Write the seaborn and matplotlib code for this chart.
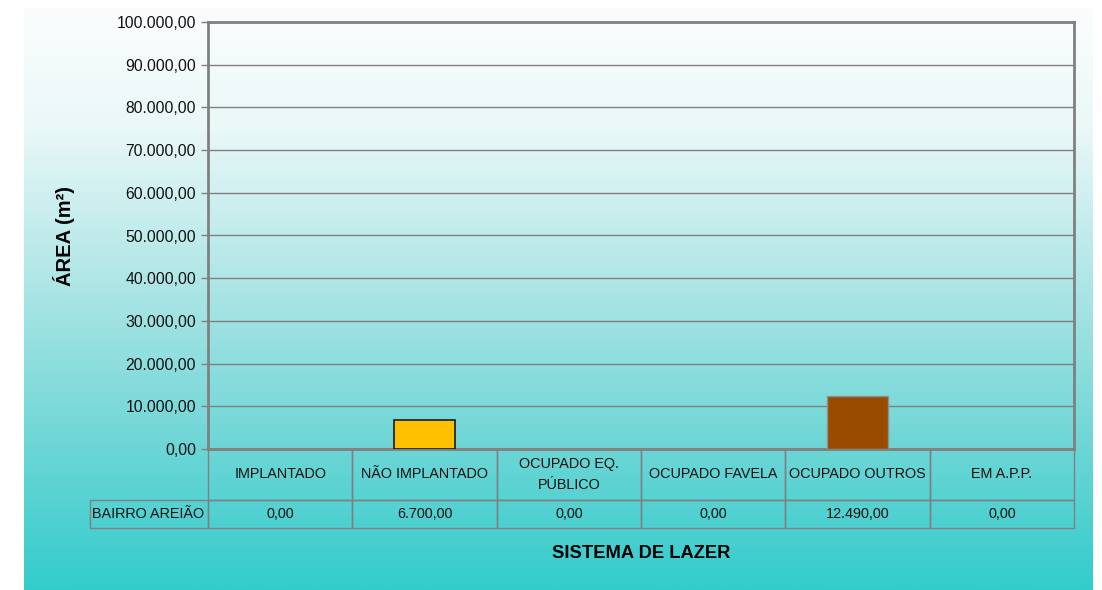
import numpy as np
import matplotlib
matplotlib.use("Agg")
import matplotlib.pyplot as plt
import seaborn as sns
from matplotlib.colors import LinearSegmentedColormap

# data
categories = ["IMPLANTADO", "NÃO IMPLANTADO", "OCUPADO EQ.\nPÚBLICO",
              "OCUPADO FAVELA", "OCUPADO OUTROS", "EM A.P.P."]
values = [0, 6700, 0, 0, 12490, 0]
series_name = "BAIRRO AREIÃO"
bar_colors = ["#339966", "#FFC000", "#3366FF", "#FF6600", "#994C00", "#808080"]
yticks = np.arange(0, 100001, 10000)

sns.set_theme(style="white")
plt.rcParams["font.family"] = ["Liberation Sans", "DejaVu Sans"]


def fmt_br(v):
    s = f"{v:,.2f}"
    return s.replace(",", "X").replace(".", ",").replace("X", ".")


W, H = 1102, 590
fig = plt.figure(figsize=(W / 100, H / 100), dpi=100, facecolor="white")

# gradient chart area (white -> turquoise)
bg = fig.add_axes([24 / W, 0, (1093 - 24) / W, (H - 8) / H], zorder=0)
cmap = LinearSegmentedColormap.from_list(
    "grad", [(0.0, "#FBFDFD"), (0.2, "#EBF8F8"), (0.5, "#A8E4E4"),
             (0.75, "#6ED6D6"), (1.0, "#33CCCC")])
bg.imshow(np.linspace(0, 1, 256).reshape(-1, 1), aspect="auto", cmap=cmap,
          extent=[0, 1, 0, 1], origin="upper")
bg.axis("off")

# plot area
ax = fig.add_axes([208 / W, 1 - 449 / H, 866 / W, 427 / H], zorder=1)
ax.set_facecolor("none")
sns.barplot(x=categories, y=values, hue=categories, palette=bar_colors,
            width=0.42, legend=False, ax=ax, saturation=1, zorder=3)
for patch, v in zip(ax.patches, values):
    if v == 0:
        patch.set_visible(False)
ax.patches[1].set_edgecolor("#1a1a1a")
ax.patches[1].set_linewidth(1.2)
ax.patches[4].set_edgecolor("#909090")
ax.patches[4].set_linewidth(1.0)

ax.set_xlim(-0.5, len(categories) - 0.5)
ax.set_ylim(0, 100000)
ax.set_yticks(yticks)
ax.set_yticklabels([fmt_br(t) for t in yticks], fontsize=11.3, color="#111111")
ax.set_xticks([])
ax.tick_params(axis="y", length=5, width=1, color="#808080", pad=3.5, left=True)
ax.grid(axis="y", color="#808080", linewidth=1)
ax.set_axisbelow(True)
for side in ["left", "right", "top", "bottom"]:
    ax.spines[side].set_visible(True)
    ax.spines[side].set_color("#808080")
    ax.spines[side].set_linewidth(2)

ax.set_ylabel("ÁREA (m²)", fontsize=14.5, fontweight="bold", color="black")
ax.yaxis.set_label_coords((75 - 208) / 866, 0.5)
ax.set_xlabel("SISTEMA DE LAZER", fontsize=13.2, fontweight="bold", color="black")
ax.xaxis.set_label_coords(0.5, -(553 - 449) / 427)
ax.xaxis.label.set_va("center")

# data table below the plot
col_w = 1 / len(categories)
tbl = ax.table(cellText=[[fmt_br(v) for v in values]], colLabels=categories,
               cellLoc="center", colWidths=[col_w] * len(categories),
               bbox=[0, -79 / 427, 1, 79 / 427])
tbl.add_cell(1, -1, width=118 / 866, height=28 / 427, text=series_name, loc="left")
tbl.auto_set_font_size(False)
for (r, c), cell in tbl.get_celld().items():
    cell.set_facecolor("none")
    cell.set_edgecolor("#808080")
    cell.set_linewidth(1)
    cell.get_text().set_fontsize(10.4)
    cell.get_text().set_color("#111111")
    cell.get_text().set_linespacing(1.55)
    cell.set_height(51 / 427 if r == 0 else 28 / 427)
    if c == -1:
        cell.PAD = 0.02

fig.savefig("out.png", dpi=100, facecolor="white")
